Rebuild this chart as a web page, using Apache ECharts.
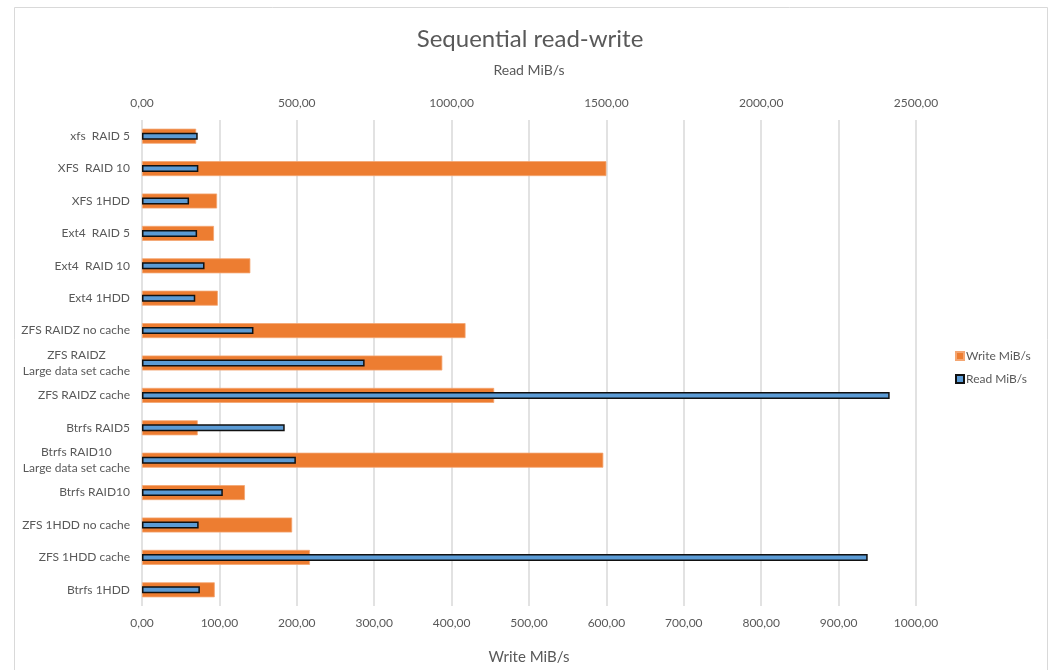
<!DOCTYPE html>
<html>
<head>
<meta charset="utf-8">
<title>Sequential read-write</title>
<script src="https://cdn.jsdelivr.net/npm/echarts@6/dist/echarts.min.js"></script>
<style>
  html, body { margin: 0; padding: 0; background: #ffffff; }
  #chart { width: 1054px; height: 670px; }
</style>
</head>
<body>
<div id="chart"></div>
<script>
// Storage configurations, listed top to bottom
const categories = [
  'xfs  RAID 5',
  'XFS  RAID 10',
  'XFS 1HDD',
  'Ext4  RAID 5',
  'Ext4  RAID 10',
  'Ext4 1HDD',
  'ZFS RAIDZ no cache',
  'ZFS RAIDZ\nLarge data set cache',
  'ZFS RAIDZ cache',
  'Btrfs RAID5',
  'Btrfs RAID10\nLarge data set cache',
  'Btrfs RAID10',
  'ZFS 1HDD no cache',
  'ZFS 1HDD cache',
  'Btrfs 1HDD'
];

// Sequential write throughput, MiB/s (bottom axis)
const writeMiBs = [70, 600, 97, 93, 140, 98, 418, 388, 455, 72, 596, 133, 194, 217, 94];

// Sequential read throughput, MiB/s (top axis)
const readMiBs = [180, 182, 152, 178, 202, 172, 360, 719, 2415, 461, 497, 261, 183, 2344, 187];

// Axis ranges and tick spacing
const writeAxis = { min: 0, max: 1000, interval: 100 };
const readAxis = { min: 0, max: 2500, interval: 500 };

const FONT = 'Lato, "Open Sans", sans-serif';
const TEXT = '#595959';

function commaDecimal(v) {
  return Number(v).toFixed(2).replace('.', ',');
}

const chart = echarts.init(document.getElementById('chart'), null, { renderer: 'canvas' });

chart.setOption({
  backgroundColor: '#ffffff',
  animation: false,
  textStyle: { fontFamily: FONT, color: TEXT },
  title: {
    text: 'Sequential read-write',
    left: 525,
    textAlign: 'center',
    top: 22,
    textStyle: { fontFamily: FONT, fontSize: 24, fontWeight: 'normal', color: TEXT }
  },
  graphic: [{
    type: 'rect',
    shape: { x: 14.5, y: 7.5, width: 1033, height: 700 },
    style: { fill: 'none', stroke: '#d9d9d9', lineWidth: 1 },
    silent: true,
    z: -1
  }],
  legend: {
    orient: 'vertical',
    left: 950,
    top: 345,
    itemWidth: 8,
    itemHeight: 8,
    itemGap: 11,
    icon: 'rect',
    data: ['Write MiB/s', 'Read MiB/s'],
    textStyle: { fontFamily: FONT, fontSize: 12, color: TEXT, padding: [0, 0, 0, -3] }
  },
  grid: { left: 142, right: 138, top: 120, bottom: 61, containLabel: false },
  xAxis: [
    {
      type: 'value',
      position: 'bottom',
      min: writeAxis.min,
      max: writeAxis.max,
      interval: writeAxis.interval,
      name: 'Write MiB/s',
      nameLocation: 'middle',
      nameGap: 44,
      nameTextStyle: { fontFamily: FONT, fontSize: 15, color: TEXT },
      axisLine: { show: false },
      axisTick: { show: false },
      axisLabel: { formatter: commaDecimal, fontFamily: FONT, fontSize: 12, color: TEXT, margin: 11 },
      splitLine: { show: true, lineStyle: { color: '#d9d9d9', width: 1.5 } }
    },
    {
      type: 'value',
      position: 'top',
      min: readAxis.min,
      max: readAxis.max,
      interval: readAxis.interval,
      name: 'Read MiB/s',
      nameLocation: 'middle',
      nameGap: 43,
      nameTextStyle: { fontFamily: FONT, fontSize: 14, color: TEXT },
      axisLine: { show: false },
      axisTick: { show: false },
      axisLabel: { formatter: commaDecimal, fontFamily: FONT, fontSize: 12, color: TEXT, margin: 11 },
      splitLine: { show: false }
    }
  ],
  yAxis: [
    {
      type: 'category',
      inverse: true,
      data: categories,
      axisLine: { show: false },
      axisTick: { show: false },
      axisLabel: {
        margin: 12,
        fontFamily: FONT,
        fontSize: 12,
        color: TEXT,
        formatter: function (v) {
          return v.split('\n').map(function (line) { return '{c|' + line + '}'; }).join('\n');
        },
        rich: {
          c: { align: 'center', fontFamily: FONT, fontSize: 12, color: TEXT, lineHeight: 16 }
        }
      }
    },
    {
      type: 'category',
      inverse: true,
      data: categories,
      show: false
    }
  ],
  series: [
    {
      name: 'Write MiB/s',
      type: 'bar',
      xAxisIndex: 0,
      yAxisIndex: 0,
      data: writeMiBs,
      barWidth: 15,
      itemStyle: { color: '#ed7d31', borderColor: '#f4a672', borderWidth: 0.8 },
      z: 2
    },
    {
      name: 'Read MiB/s',
      type: 'bar',
      xAxisIndex: 1,
      yAxisIndex: 1,
      data: readMiBs,
      barWidth: 7,
      itemStyle: { color: '#5b9bd5', borderColor: '#111111', borderWidth: 1.5 },
      z: 3
    }
  ]
});
</script>
</body>
</html>
